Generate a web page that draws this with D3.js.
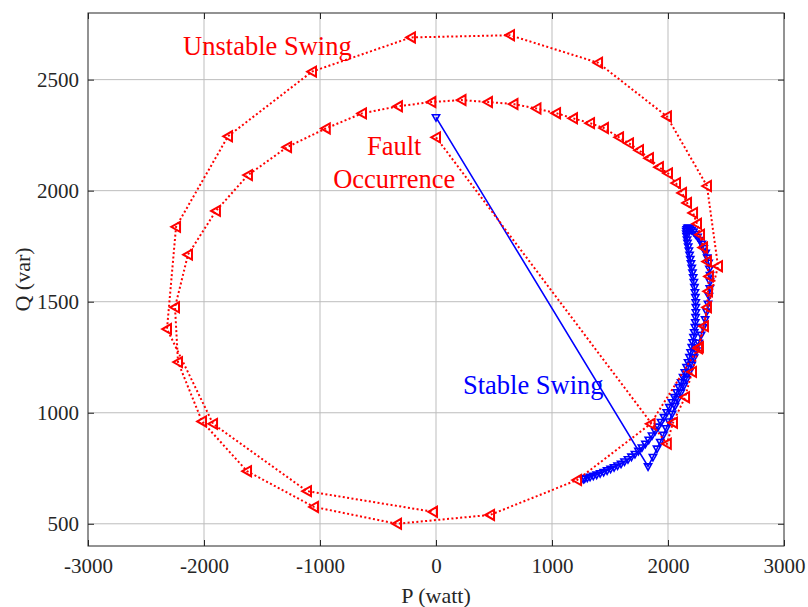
<!DOCTYPE html>
<html><head><meta charset="utf-8">
<script src="https://cdn.jsdelivr.net/npm/d3@7"></script>
<style>body{margin:0;background:#fff}svg{display:block}</style>
</head><body>
<svg id="c" width="808" height="607"></svg>
<script>
// ---- data ----
const xTicks = [-3000, -2000, -1000, 0, 1000, 2000, 3000];
const yTicks = [500, 1000, 1500, 2000, 2500];

const unstableP = [0, 1990, 2043, 2147, 2207, 2267, 2310, 2336, 2345, 2353, 2336, 2302, 2276, 2250, 2216, 2164, 2121, 2069, 2000, 1922, 1836, 1750, 1664, 1578, 1448, 1328, 1181, 1035, 866, 668, 448, 220, -40, -328, -638, -950, -1284, -1621, -1897, -2138, -2250, -2224, -2017, -1629, -1052, -336, 466, 1216, 1850, 2259, 2431, 2336, 1991, 1397, 638, -216, -1069, -1793, -2241, -2319, -1922, -1112, -26];
const unstableQ = [2240, 860, 955, 1070, 1184, 1296, 1390, 1475, 1547, 1614, 1681, 1744, 1802, 1851, 1900, 1945, 1990, 2034, 2078, 2106, 2146, 2182, 2213, 2240, 2282, 2304, 2326, 2349, 2370, 2390, 2399, 2408, 2399, 2380, 2348, 2280, 2196, 2070, 1909, 1712, 1475, 1228, 961, 737, 576, 500, 540, 697, 950, 1290, 1660, 2021, 2334, 2576, 2700, 2690, 2536, 2245, 1837, 1377, 950, 647, 554];

const stableP = [0, 1828, 1870, 1905, 1933, 1960, 1985, 2010, 2035, 2060, 2085, 2110, 2135, 2160, 2183, 2205, 2225, 2245, 2265, 2285, 2303, 2320, 2333, 2345, 2353, 2360, 2362, 2362, 2357, 2350, 2338, 2325, 2308, 2292, 2273, 2255, 2237, 2220, 2204, 2190, 2178, 2168, 2161, 2158, 2158, 2160, 2164, 2168, 2174, 2180, 2186, 2192, 2198, 2205, 2211, 2217, 2223, 2228, 2232, 2236, 2239, 2240, 2240, 2238, 2235, 2232, 2226, 2220, 2213, 2205, 2195, 2185, 2173, 2160, 2145, 2130, 2113, 2095, 2075, 2055, 2034, 2012, 1989, 1965, 1940, 1915, 1889, 1862, 1834, 1805, 1775, 1745, 1715, 1685, 1655, 1625, 1595, 1565, 1535, 1505, 1475, 1445, 1415, 1385, 1356, 1328, 1304, 1282, 1270];
const stableQ = [2330, 758, 800, 838, 868, 900, 930, 960, 995, 1030, 1060, 1090, 1120, 1150, 1183, 1215, 1248, 1280, 1315, 1350, 1385, 1420, 1455, 1490, 1525, 1560, 1590, 1620, 1648, 1675, 1698, 1720, 1740, 1760, 1777, 1792, 1804, 1815, 1823, 1830, 1833, 1832, 1826, 1818, 1807, 1795, 1780, 1765, 1748, 1730, 1711, 1692, 1672, 1652, 1631, 1610, 1588, 1565, 1542, 1520, 1497, 1475, 1452, 1430, 1407, 1385, 1362, 1340, 1317, 1295, 1272, 1250, 1227, 1205, 1182, 1160, 1137, 1115, 1092, 1070, 1047, 1025, 1002, 980, 958, 937, 917, 897, 878, 860, 843, 828, 814, 802, 790, 780, 770, 762, 754, 747, 740, 733, 727, 721, 716, 711, 707, 704, 701];

const labels = [
  {text: "Unstable Swing", P: -2180, Q: 2610, color: "red", anchor: "start"},
  {text: "Fault", P: -360, Q: 2160, color: "red", anchor: "middle"},
  {text: "Occurrence", P: -360, Q: 2010, color: "red", anchor: "middle"},
  {text: "Stable Swing", P: 232, Q: 1085, color: "blue", anchor: "start"}
];

// ---- layout ----
const L = 88, R = 784, T = 13, B = 546;
const svg = d3.select("#c");
const x = d3.scaleLinear().domain([-3000, 3000]).range([L, R]);
const y = d3.scaleLinear().domain([400, 2800]).range([B, T]);
const font = "'Liberation Serif','Times New Roman',serif";
const axisCol = "#262626";

// grid
svg.append("g").selectAll("line.gx").data(xTicks.slice(1, -1)).join("line")
  .attr("x1", d => x(d)).attr("x2", d => x(d)).attr("y1", T).attr("y2", B)
  .attr("stroke", "#bdbdbd").attr("stroke-width", 1);
svg.append("g").selectAll("line.gy").data(yTicks).join("line")
  .attr("y1", d => y(d)).attr("y2", d => y(d)).attr("x1", L).attr("x2", R)
  .attr("stroke", "#bdbdbd").attr("stroke-width", 1);

// axes (inward ticks)
const fmt = d => String(d);
const ax = svg.append("g").attr("transform", `translate(0,${B})`)
  .call(d3.axisBottom(x).tickValues(xTicks).tickSizeInner(-6).tickSizeOuter(0).tickPadding(12).tickFormat(fmt));
const axT = svg.append("g").attr("transform", `translate(0,${T})`)
  .call(d3.axisTop(x).tickValues(xTicks).tickSizeInner(-6).tickSizeOuter(0).tickFormat(""));
const ay = svg.append("g").attr("transform", `translate(${L},0)`)
  .call(d3.axisLeft(y).tickValues(yTicks).tickSizeInner(-6).tickSizeOuter(0).tickPadding(9).tickFormat(fmt));
const ayR = svg.append("g").attr("transform", `translate(${R},0)`)
  .call(d3.axisRight(y).tickValues(yTicks).tickSizeInner(-6).tickSizeOuter(0).tickFormat(""));
[ax, axT, ay, ayR].forEach(g => {
  g.select(".domain").remove();
  g.selectAll("line").attr("stroke", axisCol);
  g.selectAll("text").attr("fill", axisCol).style("font-family", font).style("font-size", "21px");
});
svg.append("rect").attr("x", L).attr("y", T).attr("width", R - L).attr("height", B - T)
  .attr("fill", "none").attr("stroke", axisCol).attr("stroke-width", 1);

// stable (blue)
const stable = stableP.map((p, i) => [p, stableQ[i]]);
const line = d3.line().x(d => x(d[0])).y(d => y(d[1]));
svg.append("path").datum(stable).attr("d", line)
  .attr("fill", "none").attr("stroke", "blue").attr("stroke-width", 1.6);
svg.append("g").selectAll("path").data(stable).join("path")
  .attr("d", "M-3.6,-2.6L3.6,-2.6L0,3.8Z")
  .attr("transform", d => `translate(${x(d[0])},${y(d[1])})`)
  .attr("fill", "none").attr("stroke", "blue").attr("stroke-width", 1.6);

// unstable (red)
const unstable = unstableP.map((p, i) => [p, unstableQ[i]]);
svg.append("path").datum(unstable).attr("d", line)
  .attr("fill", "none").attr("stroke", "red").attr("stroke-width", 2).attr("stroke-dasharray", "2,2.4");
svg.append("g").selectAll("path").data(unstable).join("path")
  .attr("d", "M-4.8,0L4,-5L4,5Z")
  .attr("transform", d => `translate(${x(d[0])},${y(d[1])})`)
  .attr("fill", "none").attr("stroke", "red").attr("stroke-width", 2);

// annotations
svg.append("g").selectAll("text").data(labels).join("text")
  .attr("x", d => x(d.P)).attr("y", d => y(d.Q))
  .attr("text-anchor", d => d.anchor).attr("fill", d => d.color)
  .style("font-family", font).style("font-size", "26.5px").text(d => d.text);

// axis labels
svg.append("text").attr("x", (L + R) / 2).attr("y", 603).attr("text-anchor", "middle")
  .attr("fill", axisCol).style("font-family", font).style("font-size", "22px").text("P (watt)");
svg.append("text").attr("transform", `translate(30,${(T + B) / 2}) rotate(-90)`).attr("text-anchor", "middle")
  .attr("fill", axisCol).style("font-family", font).style("font-size", "22px").text("Q (var)");
</script>
</body></html>
